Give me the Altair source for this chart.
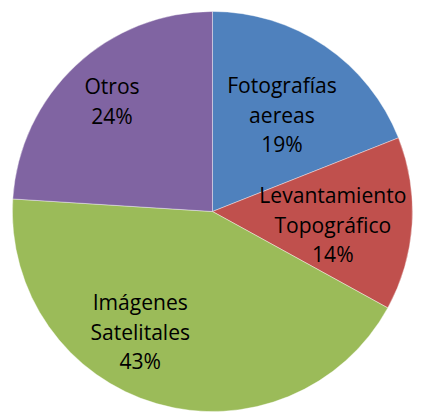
import altair as alt
import pandas as pd

categories = ["Fotografías aereas", "Levantamiento Topográfico", "Imágenes Satelitales", "Otros"]
line1 = ["Fotografías", "Levantamiento", "Imágenes", "Otros"]
line2 = ["aereas", "Topográfico", "Satelitales", ""]
values = [19, 14, 43, 24]
colors = ["#4F81BD", "#C0504D", "#9BBB59", "#8064A2"]

df = pd.DataFrame({
    "cat": categories,
    "value": values,
    "order": list(range(len(categories))),
})
df["label"] = [
    (a + "\n" + b + "\n" + f"{v}%") if b else (a + "\n" + f"{v}%")
    for a, b, v in zip(line1, line2, values)
]
total = sum(values)

W, H = 414, 408
cx, cy, R = 208.5, 203.5, 204
theta_scale = alt.Scale(domain=[0, total])

pie = alt.Chart(df).mark_arc(outerRadius=R, stroke="white", strokeWidth=0.4).encode(
    theta=alt.Theta("value:Q", stack=True, scale=theta_scale),
    order=alt.Order("order:Q"),
    color=alt.Color("cat:N", scale=alt.Scale(domain=categories, range=colors), legend=None),
    x=alt.value(cx),
    y=alt.value(cy),
)

lab_base = alt.Chart(df).transform_window(
    cum="sum(value)", sort=[alt.SortField("order")]
).transform_calculate(mid="datum.cum - datum.value / 2")

# label nudges (dx, dy) relative to the slice mid-angle anchor
nudges = [(-5, -15), (-12, -23), (-36, -35), (-10, -27)]

layers = [pie]
for cat, (ndx, ndy) in zip(categories, nudges):
    layers.append(
        lab_base.transform_filter(alt.datum.cat == cat).mark_text(
            font="Open Sans", fontSize=21.5, color="black", lineBreak="\n", lineHeight=30,
            align="center", baseline="middle", dx=ndx, dy=ndy,
        ).encode(
            theta=alt.Theta("mid:Q", scale=theta_scale),
            text="label:N",
            radius=alt.value(135),
            x=alt.value(cx),
            y=alt.value(cy),
        )
    )

chart = alt.layer(*layers).properties(
    width=W, height=H, padding=0, autosize=alt.AutoSizeParams(type="none")
).configure_view(stroke=None)

chart.save("out.html", embed_options={"renderer": "svg", "actions": False})
